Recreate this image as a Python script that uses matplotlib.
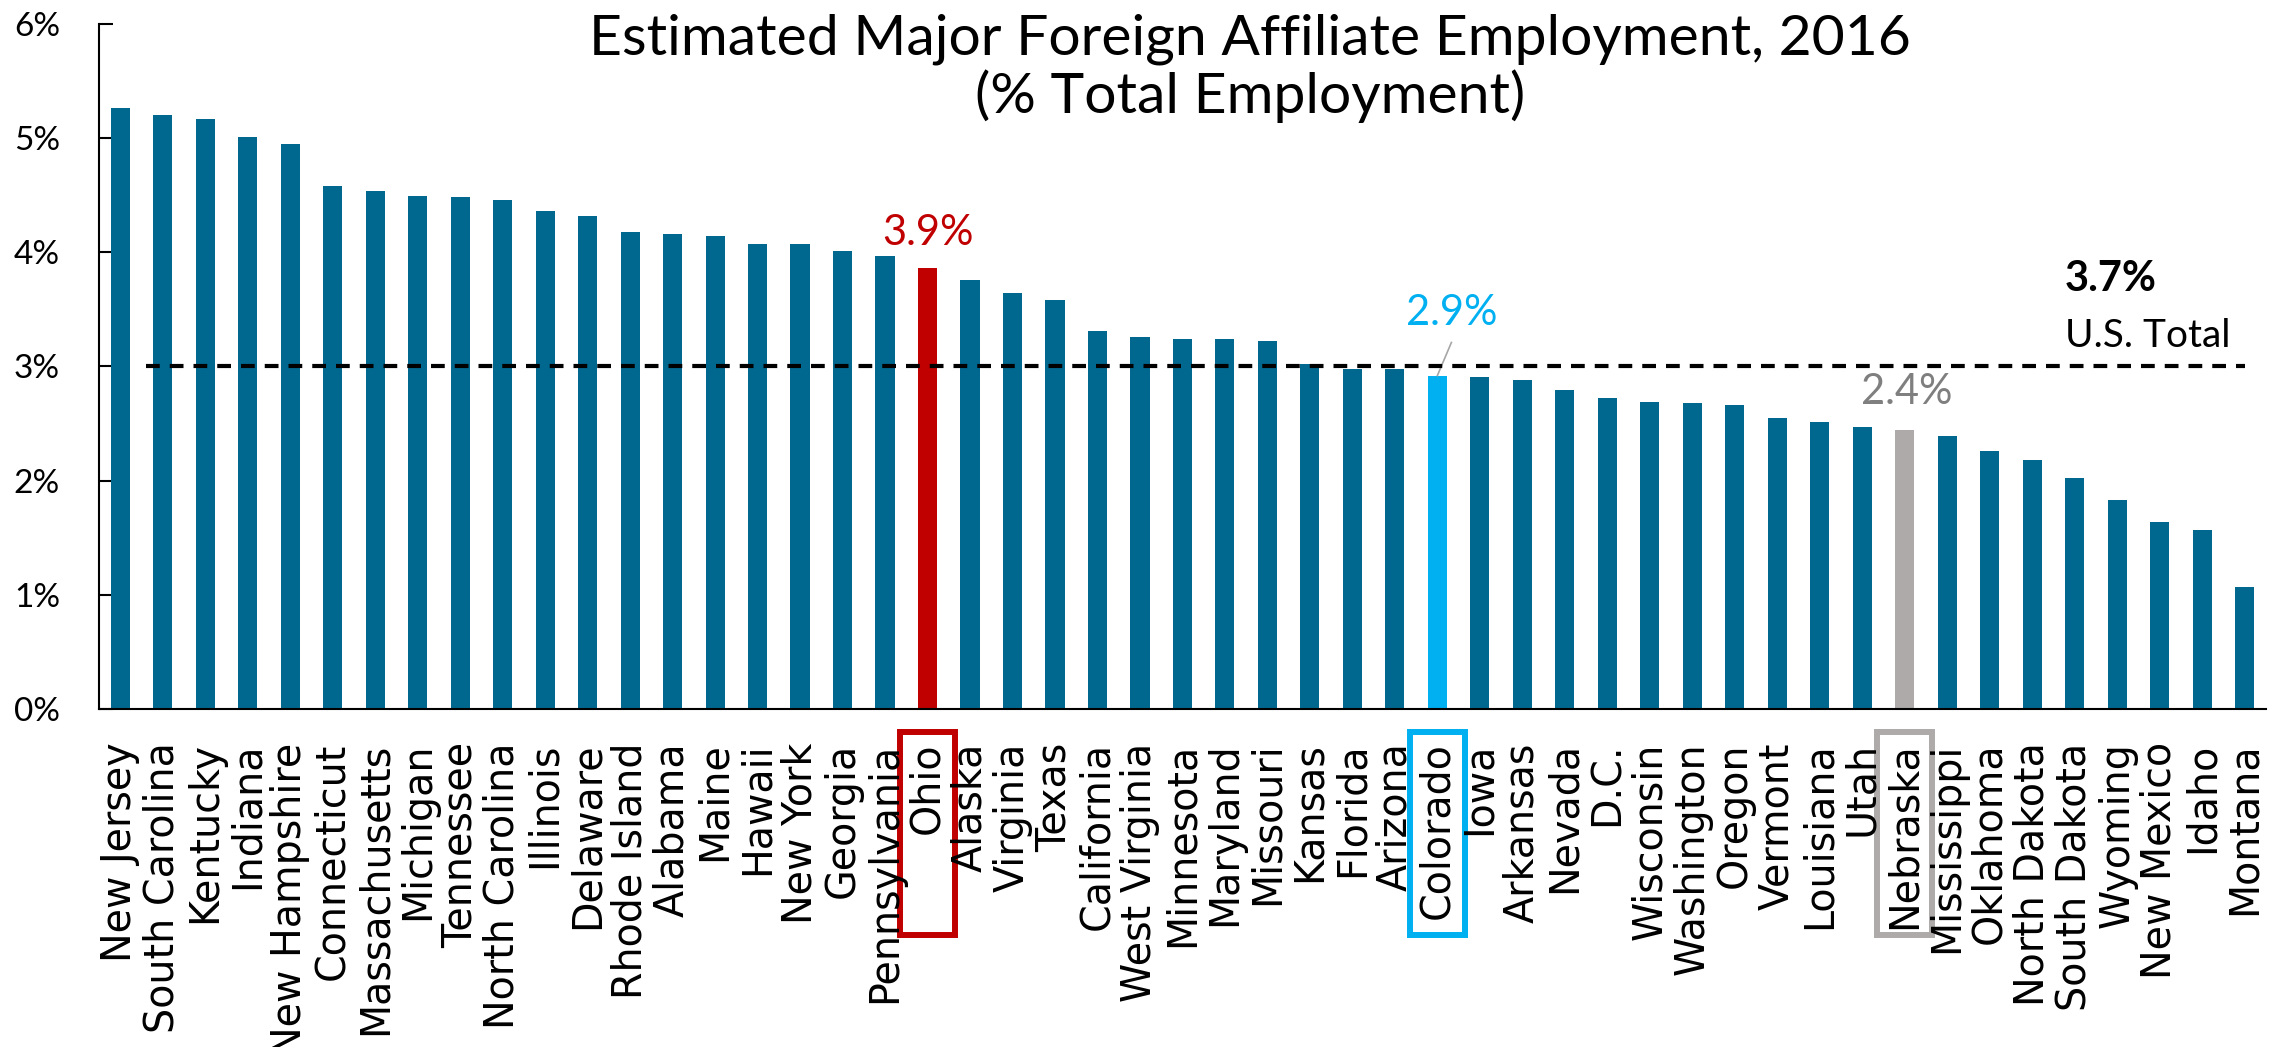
import matplotlib.pyplot as plt
import matplotlib.transforms as mtransforms
from matplotlib.patches import Rectangle

states = ["New Jersey", "South Carolina", "Kentucky", "Indiana", "New Hampshire",
          "Connecticut", "Massachusetts", "Michigan", "Tennessee", "North Carolina",
          "Illinois", "Delaware", "Rhode Island", "Alabama", "Maine", "Hawaii",
          "New York", "Georgia", "Pennsylvania", "Ohio", "Alaska", "Virginia",
          "Texas", "California", "West Virginia", "Minnesota", "Maryland",
          "Missouri", "Kansas", "Florida", "Arizona", "Colorado", "Iowa",
          "Arkansas", "Nevada", "D.C.", "Wisconsin", "Washington", "Oregon",
          "Vermont", "Louisiana", "Utah", "Nebraska", "Mississippi", "Oklahoma",
          "North Dakota", "South Dakota", "Wyoming", "New Mexico", "Idaho", "Montana"]
share = [5.26, 5.20, 5.17, 5.01, 4.95, 4.58, 4.54, 4.49, 4.48, 4.46,
         4.36, 4.32, 4.18, 4.16, 4.14, 4.07, 4.07, 4.01, 3.97, 3.86,
         3.76, 3.64, 3.58, 3.31, 3.26, 3.24, 3.24, 3.22, 3.02, 2.98,
         2.98, 2.92, 2.91, 2.88, 2.79, 2.72, 2.69, 2.68, 2.66, 2.55,
         2.51, 2.47, 2.44, 2.39, 2.26, 2.18, 2.02, 1.83, 1.64, 1.57, 1.07]
us_line = 3.0
highlights = {"Ohio": ("#C00000", "3.9%"),
              "Colorado": ("#00B0F0", "2.9%"),
              "Nebraska": ("#AEAAAA", "2.4%")}

base_color = "#00688F"
colors = [highlights[s][0] if s in highlights else base_color for s in states]
x = list(range(len(states)))

fig = plt.figure(figsize=(22.7, 10.47), dpi=100)
ax = fig.add_axes([0.0436, 0.3228, 0.9546, 0.6544])

ax.bar(x, share, width=0.45, color=colors, zorder=2)
ax.hlines(us_line, 0.6, 50.0, colors="black", linestyles=(0, (3.3, 2.4)), lw=3, zorder=3)

ax.set_xlim(-0.5, 50.5)
ax.set_ylim(0, 6)
ax.set_yticks(range(7))
ax.set_yticklabels([f"{v}%" for v in range(7)], family="Lato", fontsize=24)
ax.tick_params(axis="y", direction="in", length=10, width=1.5, pad=28)
ax.set_xticks(x)
ax.set_xticklabels(states, rotation=90, fontsize=28.5, family="DejaVu Sans")
ax.tick_params(axis="x", length=0, pad=24)
for side in ["top", "right"]:
    ax.spines[side].set_visible(False)
for side in ["left", "bottom"]:
    ax.spines[side].set_linewidth(1.5)

# boxes round the highlighted state names
trans = mtransforms.blended_transform_factory(ax.transData, fig.transFigure)
for s, (c, lab) in highlights.items():
    i = states.index(s)
    ax.add_patch(Rectangle((i - 0.65, 0.107), 1.3, 0.194, transform=trans,
                           fill=False, ec=c, lw=4.3, clip_on=False))

# value labels
i = states.index("Ohio")
ax.text(i, share[i] + 0.14, highlights["Ohio"][1], color="#C00000",
        fontsize=30, family="Lato", ha="center", va="bottom")
i = states.index("Colorado")
ax.text(i + 0.35, share[i] + 0.38, highlights["Colorado"][1], color="#00B0F0",
        fontsize=30, family="Lato", ha="center", va="bottom")
ax.plot([i + 0.33, i], [share[i] + 0.29, share[i]], color="#A6A6A6", lw=1.2)
i = states.index("Nebraska")
ax.text(i + 0.05, share[i] + 0.17, highlights["Nebraska"][1], color="#7F7F7F",
        fontsize=30, family="Lato", ha="center", va="bottom")

ax.text(45.76, 3.77, "3.7%", fontsize=30, family="Lato", fontweight="bold", va="center")
ax.text(45.76, 3.27, "U.S. Total", fontsize=28, family="Lato", va="center")

fig.text(0.5507, 0.987, "Estimated Major Foreign Affiliate Employment, 2016\n(% Total Employment)",
         ha="center", va="top", fontsize=41, family="Lato", linespacing=1.1)

fig.savefig("out.png", dpi=100)
